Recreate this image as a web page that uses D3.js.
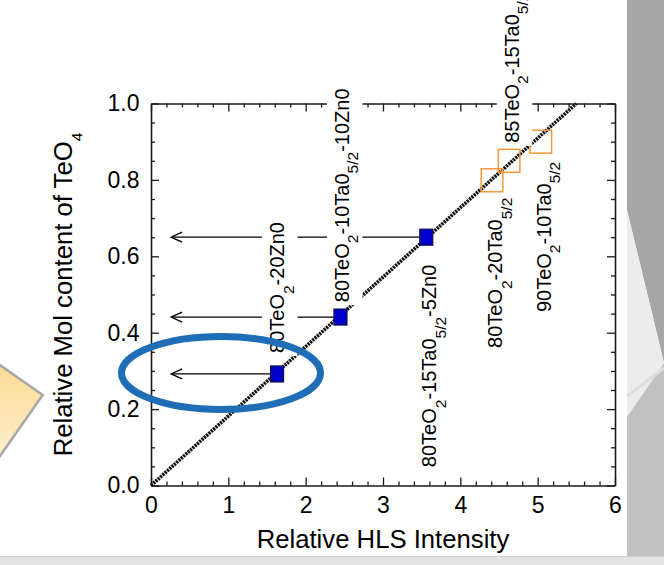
<!DOCTYPE html>
<html>
<head>
<meta charset="utf-8">
<script src="https://cdn.jsdelivr.net/npm/d3@7"></script>
<style>
  body { margin: 0; background: #fff; }
  svg { display: block; }
</style>
</head>
<body>
<svg id="chart" width="664" height="565"></svg>
<script>
// Zn-bearing glasses (filled squares)
const znGlasses = ["80TeO_2-20Zn0", "80TeO_2-10Ta0_{5/2}-10Zn0", "80TeO_2-15Ta0_{5/2}-5Zn0"];
const znIntensity = [1.63, 2.45, 3.56];
const znTeO4 = [0.292, 0.441, 0.650];

// Ta-only glasses (open boxes showing their spread)
const taGlasses = ["80TeO_2-20Ta0_{5/2}", "85TeO_2-15Ta0_{5/2}", "90TeO_2-10Ta0_{5/2}"];
const taIntensity = [4.41, 4.63, 5.04];
const taTeO4 = [0.799, 0.850, 0.900];
const taIntensityErr = [0.14, 0.14, 0.14];
const taTeO4Err = [0.03, 0.03, 0.03];

// calibration line through the origin
const fitIntensity = [0, 5.5];
const fitTeO4 = [0, 1.0];

// axis ticks
const xTickValues = [0, 1, 2, 3, 4, 5, 6];
const xTickLabels = ["0", "1", "2", "3", "4", "5", "6"];
const yTickValues = [0, 0.2, 0.4, 0.6, 0.8, 1.0];
const yTickLabels = ["0.0", "0.2", "0.4", "0.6", "0.8", "1.0"];

const xTitle = "Relative HLS Intensity";
const yTitle = "Relative Mol content of TeO_4";

// where each sample name sits (data units: baseline intensity, start of text)
const znLabelAt = [[1.72, 0.347], [2.56, 0.480], [3.69, 0.048]];
const taLabelAt = [[4.54, 0.360], [4.755, 0.897], [5.17, 0.454]];
// read-off arrows end here on the intensity axis
const arrowTipIntensity = 0.26;

const font = "'Liberation Sans', Arial, Helvetica, sans-serif";
const svg = d3.select("#chart");

const x = d3.scaleLinear().domain([0, 6]).range([151, 615]);
const y = d3.scaleLinear().domain([0, 1]).range([485.5, 103.5]);

/* ---------- slide backdrop ---------- */
const deco = svg.append("g");
deco.append("rect").attr("width", 664).attr("height", 565).attr("fill", "#fff");
deco.append("polygon").attr("points", "627,0 664,0 664,363 627,210").attr("fill", "#a6a6a6");
deco.append("polygon").attr("points", "627,210 664,363 627,417").attr("fill", "#ececec");
deco.append("polygon").attr("points", "627,417 664,363 664,556 627,556").attr("fill", "#c1c1c1");
deco.append("line").attr("x1", 627).attr("y1", 396).attr("x2", 664).attr("y2", 368)
  .attr("stroke", "#dedede").attr("stroke-width", 3);
deco.append("rect").attr("x", 0).attr("y", 556).attr("width", 664).attr("height", 9).attr("fill", "#e3e3e3");
deco.append("line").attr("x1", 0).attr("y1", 556.5).attr("x2", 664).attr("y2", 556.5)
  .attr("stroke", "#d2d2d2").attr("stroke-width", 1);

const defs = svg.append("defs");
const grad = defs.append("linearGradient").attr("id", "tile").attr("x1", 0).attr("y1", 0).attr("x2", 0).attr("y2", 1);
grad.append("stop").attr("offset", "0%").attr("stop-color", "#fcd27a");
grad.append("stop").attr("offset", "100%").attr("stop-color", "#fff7e6");
deco.append("polygon")
  .attr("points", "42.7,395 -55.6,326.2 -124.4,424.5 -26.1,493.3")
  .attr("fill", "url(#tile)").attr("stroke", "#a8a8a8").attr("stroke-width", 2.5);

/* ---------- axes (box with inward ticks) ---------- */
const axisColor = "#1a1a1a";
const near = (a, b) => Math.abs(a - b) < 1e-6;
const xMinor = d3.range(0, 6.0001, 0.2).filter(v => !xTickValues.some(t => near(t, v)));
const yMinor = d3.range(0, 1.0001, 0.05).filter(v => !yTickValues.some(t => near(t, v)));

function styleAxis(g, keepDomain) {
  g.attr("font-family", font).attr("font-size", 23);
  if (keepDomain) g.select(".domain").attr("stroke", axisColor).attr("stroke-width", 1.6);
  else g.select(".domain").remove();
  g.selectAll(".tick line").attr("stroke", axisColor).attr("stroke-width", 1.3);
  g.selectAll(".tick text").attr("fill", "#000");
}

const axes = svg.append("g");
const [x0, x1] = x.range();
const [y0, y1] = y.range();

// minor ticks
axes.append("g").attr("transform", `translate(0,${y0})`)
  .call(d3.axisBottom(x).tickValues(xMinor).tickSize(-4).tickFormat(""))
  .call(g => styleAxis(g, false));
axes.append("g").attr("transform", `translate(0,${y1})`)
  .call(d3.axisTop(x).tickValues(xMinor).tickSize(-4).tickFormat(""))
  .call(g => styleAxis(g, false));
axes.append("g").attr("transform", `translate(${x0},0)`)
  .call(d3.axisLeft(y).tickValues(yMinor).tickSize(-4).tickFormat(""))
  .call(g => styleAxis(g, false));
axes.append("g").attr("transform", `translate(${x1},0)`)
  .call(d3.axisRight(y).tickValues(yMinor).tickSize(-4).tickFormat(""))
  .call(g => styleAxis(g, false));

// major ticks and labels
axes.append("g").attr("transform", `translate(0,${y0})`)
  .call(d3.axisBottom(x).tickValues(xTickValues).tickSizeInner(-8).tickSizeOuter(0)
    .tickPadding(11.2).tickFormat((d, i) => xTickLabels[i]))
  .call(g => styleAxis(g, true));
axes.append("g").attr("transform", `translate(0,${y1})`)
  .call(d3.axisTop(x).tickValues(xTickValues).tickSizeInner(-8).tickSizeOuter(0).tickFormat(""))
  .call(g => styleAxis(g, true));
axes.append("g").attr("transform", `translate(${x0},0)`)
  .call(d3.axisLeft(y).tickValues(yTickValues).tickSizeInner(-8).tickSizeOuter(0)
    .tickPadding(11.5).tickFormat((d, i) => yTickLabels[i]))
  .call(g => styleAxis(g, true));
axes.append("g").attr("transform", `translate(${x1},0)`)
  .call(d3.axisRight(y).tickValues(yTickValues).tickSizeInner(-8).tickSizeOuter(0).tickFormat(""))
  .call(g => styleAxis(g, true));

/* ---------- rich text with subscripts ---------- */
function parseLabel(s) {
  const out = [];
  let buf = "", i = 0;
  while (i < s.length) {
    if (s[i] === "_") {
      if (buf) { out.push({ t: buf, sub: false }); buf = ""; }
      let sub;
      if (s[i + 1] === "{") { const j = s.indexOf("}", i); sub = s.slice(i + 2, j); i = j + 1; }
      else { sub = s[i + 1]; i += 2; }
      out.push({ t: sub, sub: true });
    } else { buf += s[i]; i++; }
  }
  if (buf) out.push({ t: buf, sub: false });
  return out;
}
function writeRich(textSel, s, subSize, shift) {
  let down = false;
  parseLabel(s).forEach(p => {
    const ts = textSel.append("tspan").text(p.t);
    if (p.sub) { ts.attr("font-size", subSize).attr("dy", shift); down = true; }
    else if (down) { ts.attr("dy", -shift); down = false; }
  });
}

/* ---------- calibration line ---------- */
const fitPts = fitIntensity.map((v, i) => [v, fitTeO4[i]]);
const lineGen = d3.line().x(d => x(d[0])).y(d => y(d[1]));
svg.append("path").attr("d", lineGen(fitPts))
  .attr("fill", "none").attr("stroke", "#111").attr("stroke-width", 3.6)
  .attr("stroke-dasharray", "2.2 0.9");

/* ---------- Ta-only glasses: open boxes ---------- */
svg.append("g").selectAll("rect")
  .data(taIntensity.map((v, i) => ({ v, t: taTeO4[i], ex: taIntensityErr[i], ey: taTeO4Err[i] })))
  .join("rect")
  .attr("x", d => x(d.v - d.ex))
  .attr("y", d => y(d.t + d.ey))
  .attr("width", d => x(d.v + d.ex) - x(d.v - d.ex))
  .attr("height", d => y(d.t - d.ey) - y(d.t + d.ey))
  .attr("fill", "none").attr("stroke", "#f39a3b").attr("stroke-width", 1.5);

/* ---------- read-off arrows ---------- */
const sqW = 13, sqH = 16;
const arrows = svg.append("g").attr("stroke", "#000").attr("stroke-width", 1.3).attr("fill", "none");
znIntensity.forEach((v, i) => {
  const yy = y(znTeO4[i]);
  const tip = x(arrowTipIntensity);
  arrows.append("line").attr("x1", x(v) - sqW / 2).attr("y1", yy).attr("x2", tip + 1).attr("y2", yy);
  arrows.append("path").attr("d", `M${tip + 11},${yy - 5} L${tip},${yy} L${tip + 11},${yy + 5}`);
});

/* ---------- Zn-bearing glasses: filled squares ---------- */
svg.append("g").selectAll("rect")
  .data(znIntensity.map((v, i) => ({ v, t: znTeO4[i] })))
  .join("rect")
  .attr("x", d => x(d.v) - sqW / 2)
  .attr("y", d => y(d.t) - sqH / 2)
  .attr("width", sqW).attr("height", sqH)
  .attr("fill", "#0000cc").attr("stroke", "#10104a").attr("stroke-width", 1.2);

/* ---------- sample names (vertical, on white plates) ---------- */
function sampleName(layer, s, at) {
  const g = layer.append("g")
    .attr("transform", `translate(${x(at[0])},${y(at[1])}) rotate(-90)`);
  const plate = g.append("rect").attr("fill", "#fff");
  const t = g.append("text").attr("font-family", font).attr("font-size", 20).attr("fill", "#000");
  writeRich(t, s, 15.5, 9.5);
  const b = t.node().getBBox();
  plate.attr("x", b.x - 3).attr("y", b.y - 4).attr("width", b.width + 6).attr("height", b.height + 5);
}
const names = svg.append("g");
znGlasses.forEach((s, i) => sampleName(names, s, znLabelAt[i]));
taGlasses.forEach((s, i) => sampleName(names, s, taLabelAt[i]));

/* ---------- axis titles ---------- */
svg.append("text")
  .attr("x", (x0 + x1) / 2).attr("y", 548)
  .attr("text-anchor", "middle").attr("font-family", font).attr("font-size", 25.7).attr("fill", "#000")
  .text(xTitle);
const yt = svg.append("text")
  .attr("transform", `translate(71.5,${(y0 + y1) / 2}) rotate(-90)`)
  .attr("text-anchor", "middle").attr("font-family", font).attr("font-size", 25.7).attr("fill", "#000");
writeRich(yt, yTitle, 15.5, 10);

/* ---------- highlight ring around the first sample ---------- */
svg.append("ellipse")
  .attr("cx", 221).attr("cy", 373).attr("rx", 99.5).attr("ry", 36.5)
  .attr("fill", "none").attr("stroke", "#1e6db6").attr("stroke-width", 7);
</script>
</body>
</html>
